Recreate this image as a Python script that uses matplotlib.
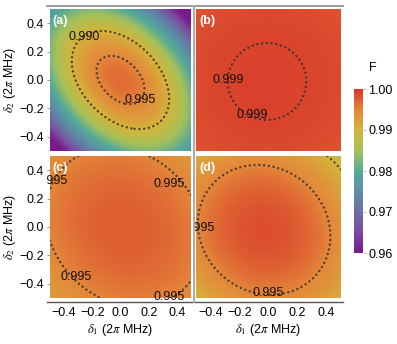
import numpy as np
import matplotlib
matplotlib.use("Agg")
import matplotlib.pyplot as plt
from matplotlib.colors import LinearSegmentedColormap, Normalize
from matplotlib.patches import Rectangle
from matplotlib.lines import Line2D

plt.rcParams["font.family"] = ["Liberation Sans", "DejaVu Sans"]
plt.rcParams["font.size"] = 9
plt.rcParams["mathtext.fontset"] = "stix"

# --- Data: fidelity maps F(d1, d2) ---
D_MIN, D_MAX = -0.5, 0.5
N_GRID = 301

PANELS = ["(a)", "(b)", "(c)", "(d)"]
F_PEAK = [0.9966, 0.99915, 0.9975, 0.99845]
PEAK_D1 = [0.0, -0.01, 0.03, -0.03]
PEAK_D2 = [0.0, -0.01, 0.0, -0.02]
COEF_D1D1 = [0.065, 0.00205, 0.00816, 0.0167]
COEF_D2D2 = [0.065, 0.00205, 0.00816, 0.0167]
COEF_D1D2 = [0.050, 0.0, 0.00263, 0.00334]

CONTOUR_LEVELS = [[0.990, 0.995], [0.999], [0.995], [0.990, 0.995]]

LABEL_TEXT = [["0.990", "0.995"], ["0.999", "0.999"],
              ["0.995", "0.995", "0.995", "0.995"], ["0.995", "0.995"]]
LABEL_D1 = [[-0.26, 0.137], [-0.28, -0.115], [-0.486, 0.345, -0.313, 0.342], [-0.476, -0.003]]
LABEL_D2 = [[0.306, -0.14], [0.0, -0.25], [0.325, 0.305, -0.351, -0.496], [-0.004, -0.468]]

F_MIN, F_MAX = 0.96, 1.00
F_TICKS = [0.96, 0.97, 0.98, 0.99, 1.00]
D_TICKS = [-0.4, -0.2, 0.0, 0.2, 0.4]

# colour scale (purple -> teal -> yellow -> red)
CMAP_STOPS = [0.0, 0.125, 0.25, 0.375, 0.5, 0.625, 0.75, 0.875, 1.0]
CMAP_COLORS = ["#7a1b8c", "#7a4a9e", "#6b6fa3", "#5b8fa6", "#55aa98",
               "#a5c15a", "#d4b43a", "#e4873a", "#d8352a"]
cmap = LinearSegmentedColormap.from_list("fid", list(zip(CMAP_STOPS, CMAP_COLORS)))
norm = Normalize(F_MIN, F_MAX)

# --- Layout in pixels of the 397x344 picture ---
W, H = 397, 344
BOXES = [(50, 9, 191, 151), (196, 9, 341, 151), (50, 156, 191, 298), (196, 156, 341, 298)]
CLIPS = [(47, 6, 193, 302), (195, 6, 343, 302), (47, 6, 193, 302), (195, 6, 343, 302)]


def frac(x0, y0, x1, y1):
    return [x0 / W, 1 - y1 / H, (x1 - x0) / W, (y1 - y0) / H]


fig = plt.figure(figsize=(W / 100, H / 100), dpi=100)

d1 = np.linspace(D_MIN, D_MAX, N_GRID)
D1, D2 = np.meshgrid(d1, d1)

for i in range(4):
    ax = fig.add_axes(frac(*BOXES[i]))
    x = D1 - PEAK_D1[i]
    y = D2 - PEAK_D2[i]
    F = F_PEAK[i] - (COEF_D1D1[i] * x**2 + COEF_D2D2[i] * y**2 + COEF_D1D2[i] * x * y)
    im = ax.imshow(F, origin="lower", extent=(D_MIN, D_MAX, D_MIN, D_MAX),
                   cmap=cmap, norm=norm, interpolation="bilinear", aspect="auto")
    cs = ax.contour(D1, D2, F, levels=CONTOUR_LEVELS[i], colors="#333333",
                    linewidths=1.8, linestyles=[(0, (0.01, 1.9))], alpha=0.85)
    cs.set_capstyle("round")

    cx0, cy0, cx1, cy1 = CLIPS[i]
    clip = Rectangle((cx0 / W, 1 - cy1 / H), (cx1 - cx0) / W, (cy1 - cy0) / H,
                     transform=fig.transFigure, fill=False, visible=False)
    fig.add_artist(clip)
    for s, lx, ly in zip(LABEL_TEXT[i], LABEL_D1[i], LABEL_D2[i]):
        t = ax.text(lx, ly, s, ha="center", va="center", fontsize=9, color="#111111")
        t.set_clip_on(True)
        t.set_clip_path(clip)

    ax.text(0.02, 0.955, PANELS[i], transform=ax.transAxes, ha="left", va="top",
            color="white", fontsize=9, fontweight="bold")

    ax.set_xlim(D_MIN, D_MAX)
    ax.set_ylim(D_MIN, D_MAX)
    for sp in ax.spines.values():
        sp.set_visible(False)
    ax.set_xticks(D_TICKS)
    ax.set_yticks(D_TICKS)
    ax.tick_params(axis="y", length=2, width=0.6, color="#888888", pad=2.5, labelsize=9)
    ax.tick_params(axis="x", length=0, pad=6.5, labelsize=9)
    ax.set_xticklabels([f"{v:.1f}".replace("-", "\u2212") for v in D_TICKS])
    ax.set_yticklabels([f"{v:.1f}".replace("-", "\u2212") for v in D_TICKS])
    if i in (1, 3):
        ax.tick_params(axis="y", left=False, labelleft=False)
    if i in (0, 1):
        ax.tick_params(axis="x", bottom=False, labelbottom=False)

    bx0, by0, bx1, by1 = BOXES[i]
    if i in (0, 2):
        fig.text(10 / W, 1 - (by0 + by1) / 2 / H, r"$\delta_2$ (2$\pi$ MHz)",
                 rotation=90, ha="center", va="center", fontsize=9)
    if i in (2, 3):
        fig.text((bx0 + bx1) / 2 / W, 1 - 330 / H, r"$\delta_1$ (2$\pi$ MHz)",
                 ha="center", va="center", fontsize=9)

# frame lines
fig.add_artist(Line2D([47 / W, 343 / W], [1 - 6 / H, 1 - 6 / H], transform=fig.transFigure,
                      color="#8a8a8a", lw=1.2))
fig.add_artist(Line2D([47 / W, 343 / W], [1 - 302 / H, 1 - 302 / H], transform=fig.transFigure,
                      color="#555555", lw=1.0))
fig.add_artist(Line2D([193.7 / W, 193.7 / W], [1 - 6 / H, 1 - 302 / H], transform=fig.transFigure,
                      color="#aaaaaa", lw=1.4))

# colour bar
cax = fig.add_axes(frac(354, 89, 363, 253))
cb = fig.colorbar(plt.cm.ScalarMappable(norm=norm, cmap=cmap), cax=cax, ticks=F_TICKS)
cb.outline.set_visible(False)
cb.ax.set_yticklabels([f"{v:.2f}" for v in F_TICKS])
cb.ax.tick_params(length=2, width=0.5, color="#aaaaaa", pad=2, labelsize=9)
fig.text(373 / W, 1 - 68 / H, "F", ha="center", va="center", fontsize=9)

fig.savefig("out.png", dpi=100)
